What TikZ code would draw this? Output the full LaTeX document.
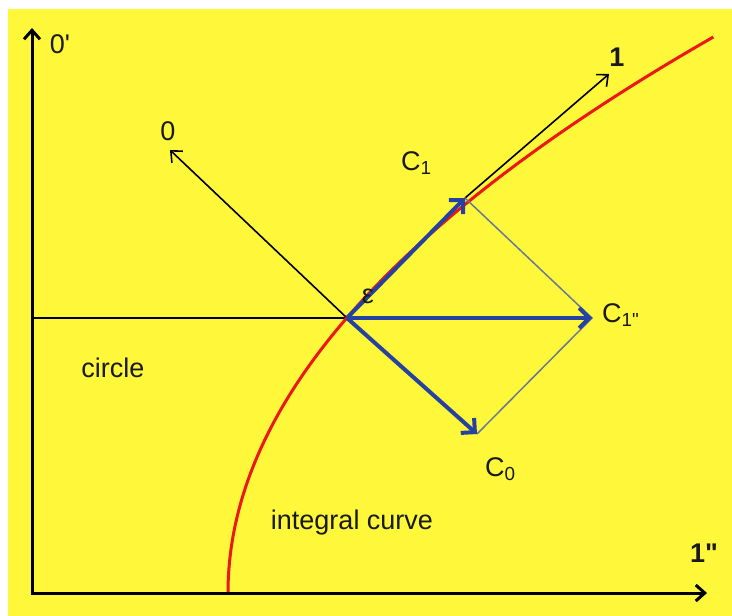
\documentclass[tikz,border=0pt]{standalone}
\usepackage{fontspec}
\setmainfont{Liberation Sans}
\usetikzlibrary{arrows.meta}
\definecolor{bgyellow}{RGB}{255,248,58}
\definecolor{vecblue}{RGB}{38,66,160}
\definecolor{curvered}{RGB}{236,24,24}
\definecolor{thinblue}{RGB}{105,120,150}
\definecolor{txt}{RGB}{25,25,25}
\begin{document}
\begin{tikzpicture}[x=1pt,y=-1pt,
  axis/.style={line width=3pt, draw=black, line join=miter, {Straight Barb[length=9pt,width=16pt]}-{Straight Barb[length=9pt,width=16pt]}},
  thinarrow/.style={line width=1.6pt, draw=black, -{Straight Barb[length=9pt,width=16pt]}},
  baseline/.style={line width=2pt, draw=black},
  vec/.style={line width=4pt, draw=vecblue, -{Straight Barb[length=10pt,width=20pt]}},
  para/.style={line width=1.5pt, draw=thinblue},
  curve/.style={line width=3pt, draw=curvered},
  lbl/.style={text=txt, inner sep=0pt, font=\fontsize{27}{32}\selectfont},
]
\useasboundingbox (0,0) rectangle (732,616);
\fill[white] (0,0) rectangle (732,616);
\fill[bgyellow] (8,9) rectangle (732,616);

\coordinate (O) at (32,593);
\coordinate (ytip) at (32,28);
\coordinate (xtip) at (707,593);
\coordinate (P) at (347,318);
\coordinate (L) at (32,318);
\coordinate (A0) at (170,150);
\coordinate (A1) at (609,74);
\coordinate (C1) at (465,198);
\coordinate (C1pp) at (592,318);
\coordinate (C0) at (477,434);

% horizontal line and black arrows
\draw[baseline] (L) -- (P);
\draw[thinarrow] (P) -- (A0);

% integral curve (parabola)
\draw[curve] plot[domain=0:556, samples=90, variable=\t] ({228+15.7*(\t/100)^2},{593-\t});

\draw[thinarrow] (C1) -- (A1);

% parallelogram sides
\draw[para] (C1) -- (C1pp) -- (C0);

% blue vectors
\draw[vec] (P) -- (C1);
\draw[vec] (P) -- (C1pp);
\draw[vec] (P) -- (C0);

% axes
\draw[axis] (ytip) -- (O) -- (xtip);

% labels
\node[lbl] (l0p) at (60,44) {0\textquotesingle};
\node[lbl, font=\fontsize{27}{32}\selectfont\bfseries] (l1pp) at (704,553) {1\textquotedbl};
\node[lbl] (l0) at (168,131) {0};
\node[lbl, font=\fontsize{27}{32}\selectfont\bfseries] (l1) at (617,57) {1};
\node[lbl, anchor=west] (lC1) at (401,163) {C\textsubscript{1}};
\node[lbl, anchor=west] (lC1pp) at (602,315) {C\textsubscript{1\textquotedbl}};
\node[lbl, anchor=west] (lC0) at (485,469) {C\textsubscript{0}};
\node[lbl] (leps) at (368,296) {ε};
\node[lbl] (lcircle) at (113,368) {circle};
\node[lbl] (lint) at (352,523) {integral curve};
\end{tikzpicture}
\end{document}
